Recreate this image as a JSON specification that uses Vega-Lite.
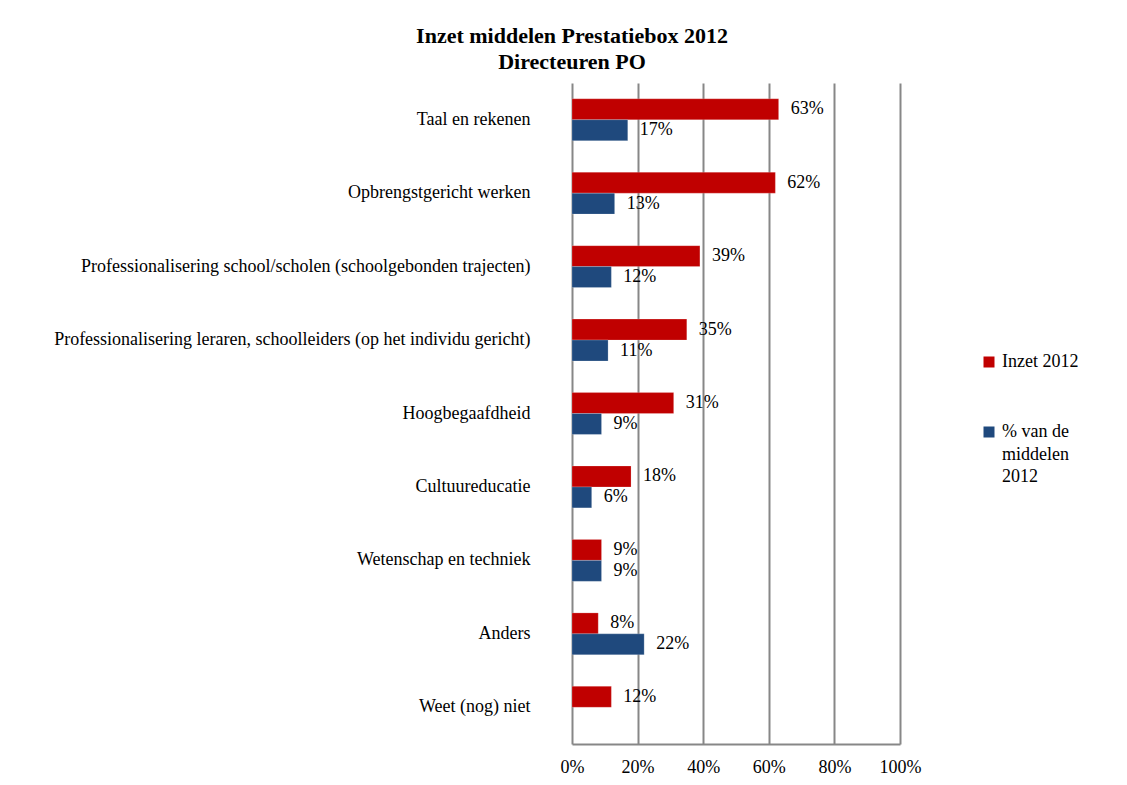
{
  "$schema": "https://vega.github.io/schema/vega-lite/v6.json",
  "width": 328,
  "height": 661,
  "autosize": {"type": "none"},
  "padding": {"left": 572, "top": 83, "right": 227, "bottom": 41},
  "background": "white",
  "config": {
    "font": "Liberation Serif",
    "view": {"stroke": null},
    "style": {"guide-label": {"lineHeight": 22.5}}
  },
  "title": {
    "text": ["Inzet middelen Prestatiebox 2012", "Directeuren PO"],
    "font": "Liberation Serif",
    "fontSize": 22,
    "fontWeight": "bold",
    "color": "black",
    "anchor": "middle",
    "frame": "group",
    "dx": -164,
    "lineHeight": 26,
    "offset": 9
  },
  "data": {
    "values": [
      {"cat": "Taal en rekenen", "serie": "Inzet 2012", "value": 0.63},
      {"cat": "Taal en rekenen", "serie": "% van de middelen 2012", "value": 0.17},
      {"cat": "Opbrengstgericht werken", "serie": "Inzet 2012", "value": 0.62},
      {"cat": "Opbrengstgericht werken", "serie": "% van de middelen 2012", "value": 0.13},
      {"cat": "Professionalisering school/scholen (schoolgebonden trajecten)", "serie": "Inzet 2012", "value": 0.39},
      {"cat": "Professionalisering school/scholen (schoolgebonden trajecten)", "serie": "% van de middelen 2012", "value": 0.12},
      {"cat": "Professionalisering leraren, schoolleiders (op het individu gericht)", "serie": "Inzet 2012", "value": 0.35},
      {"cat": "Professionalisering leraren, schoolleiders (op het individu gericht)", "serie": "% van de middelen 2012", "value": 0.11},
      {"cat": "Hoogbegaafdheid", "serie": "Inzet 2012", "value": 0.31},
      {"cat": "Hoogbegaafdheid", "serie": "% van de middelen 2012", "value": 0.09},
      {"cat": "Cultuureducatie", "serie": "Inzet 2012", "value": 0.18},
      {"cat": "Cultuureducatie", "serie": "% van de middelen 2012", "value": 0.06},
      {"cat": "Wetenschap en techniek", "serie": "Inzet 2012", "value": 0.09},
      {"cat": "Wetenschap en techniek", "serie": "% van de middelen 2012", "value": 0.09},
      {"cat": "Anders", "serie": "Inzet 2012", "value": 0.08},
      {"cat": "Anders", "serie": "% van de middelen 2012", "value": 0.22},
      {"cat": "Weet (nog) niet", "serie": "Inzet 2012", "value": 0.12}
    ]
  },
  "encoding": {
    "y": {
      "field": "cat",
      "type": "nominal",
      "sort": [
        "Taal en rekenen",
        "Opbrengstgericht werken",
        "Professionalisering school/scholen (schoolgebonden trajecten)",
        "Professionalisering leraren, schoolleiders (op het individu gericht)",
        "Hoogbegaafdheid",
        "Cultuureducatie",
        "Wetenschap en techniek",
        "Anders",
        "Weet (nog) niet"
      ],
      "scale": {"paddingInner": 0.43, "paddingOuter": 0.215},
      "axis": {
        "title": null,
        "domain": false,
        "ticks": false,
        "tickSize": 0,
        "labelPadding": 42,
        "labelFontSize": 18,
        "labelColor": "black",
        "labelLimit": 0,
        "grid": false
      }
    },
    "yOffset": {
      "field": "serie",
      "type": "nominal",
      "sort": ["Inzet 2012", "% van de middelen 2012"],
      "scale": {"paddingInner": 0, "paddingOuter": 0}
    },
    "x": {
      "field": "value",
      "type": "quantitative",
      "scale": {"domain": [0, 1], "nice": false},
      "axis": {
        "title": null,
        "values": [0, 0.2, 0.4, 0.6, 0.8, 1],
        "format": ".0%",
        "domain": true,
        "domainColor": "#878787",
        "domainWidth": 2,
        "ticks": false,
        "tickSize": 0,
        "grid": true,
        "gridColor": "#878787",
        "gridWidth": 2,
        "labelFlush": false,
        "labelPadding": 14,
        "labelFontSize": 18,
        "labelColor": "black"
      }
    }
  },
  "layer": [
    {
      "mark": {"type": "bar", "stroke": "#ffffff", "strokeOpacity": 0.4, "strokeWidth": 0.5},
      "encoding": {
        "color": {
          "field": "serie",
          "type": "nominal",
          "scale": {"domain": ["Inzet 2012", "% van de middelen 2012"], "range": ["#C00000", "#1F497D"]},
          "legend": {
            "title": null,
            "orient": "none",
            "legendX": 408,
            "legendY": 270,
            "symbolType": "square",
            "symbolSize": 121,
            "symbolStrokeWidth": 0,
            "labelFontSize": 18,
            "labelColor": "black",
            "labelBaseline": "middle",
            "labelOffset": 4,
            "rowPadding": 52,
            "labelLimit": 0,
            "labelExpr": "datum.label == '% van de middelen 2012' ? ['% van de', 'middelen', '2012'] : datum.label"
          }
        }
      }
    },
    {
      "mark": {"type": "text", "align": "left", "baseline": "middle", "dx": 12, "fontSize": 18, "color": "black"},
      "encoding": {
        "text": {"field": "value", "type": "quantitative", "format": ".0%"}
      }
    }
  ]
}
